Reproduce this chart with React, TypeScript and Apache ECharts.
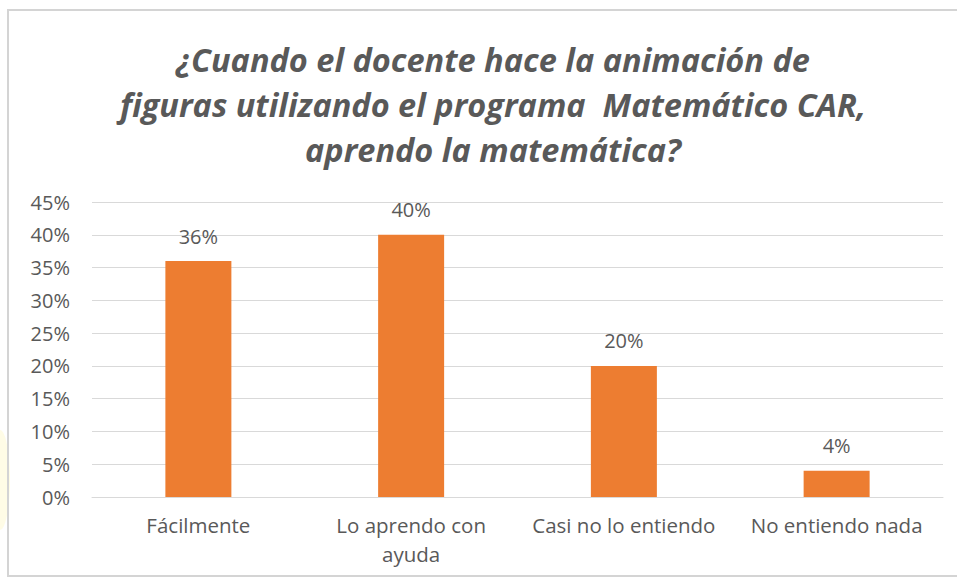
import React, { useEffect, useRef } from "react";
import * as echarts from "echarts";

const titleText = "¿Cuando el docente hace la animación de\nfiguras utilizando el programa  Matemático CAR,\naprendo la matemática?";
const categories = ["Fácilmente", "Lo aprendo con\nayuda", "Casi no lo entiendo", "No entiendo nada"];
const values = [36, 40, 20, 4];
const yMin = 0;
const yMax = 45;
const yStep = 5;

export default function App() {
  const ref = useRef<HTMLDivElement>(null);
  useEffect(() => {
    document.body.style.margin = "0";
    const chart = echarts.init(ref.current!, null, { renderer: "svg" });
    const txt = "#595959";
    chart.setOption({
      animation: false,
      backgroundColor: "#ffffff",
      title: {
        text: titleText,
        left: 488,
        textAlign: "center",
        top: 32,
        textStyle: {
          fontFamily: "Open Sans",
          fontStyle: "italic",
          fontWeight: "bold",
          fontSize: 32.5,
          lineHeight: 45,
          color: txt,
        },
      },
      graphic: [
        {
          type: "ellipse",
          shape: { cx: 0, cy: 480, rx: 10, ry: 50 },
          style: { fill: "rgba(255,240,140,0.22)" },
          z: 0,
        },
        {
          type: "rect",
          shape: { x: 8, y: 10, width: 980, height: 566 },
          style: { fill: "none", stroke: "#d4d4d4", lineWidth: 2 },
          z: 0,
        },
      ],
      grid: { left: 92, right: 14, top: 202, bottom: 84, containLabel: false },
      xAxis: {
        type: "category",
        data: categories,
        axisLine: { show: true, lineStyle: { color: "#d9d9d9", width: 1 } },
        axisTick: { show: false },
        axisLabel: {
          color: txt,
          fontFamily: "Open Sans",
          fontSize: 20.5,
          lineHeight: 29,
          margin: 13,
          interval: 0,
        },
      },
      yAxis: {
        type: "value",
        min: yMin,
        max: yMax,
        interval: yStep,
        axisLine: { show: false },
        axisTick: { show: false },
        splitLine: { lineStyle: { color: "#d9d9d9", width: 1 } },
        axisLabel: {
          color: txt,
          fontFamily: "Open Sans",
          fontSize: 20,
          margin: 22,
          formatter: (v: number) => v + "%",
        },
      },
      series: [
        {
          type: "bar",
          data: values,
          barWidth: 66,
          itemStyle: { color: "#ED7D31" },
          label: {
            show: true,
            position: "top",
            distance: 15,
            color: txt,
            fontFamily: "Open Sans",
            fontSize: 20,
            formatter: (p: any) => p.value + "%",
          },
        },
      ],
    });
    return () => chart.dispose();
  }, []);
  return <div ref={ref} style={{ width: 957, height: 581, position: "absolute", left: 0, top: 0 }} />;
}
